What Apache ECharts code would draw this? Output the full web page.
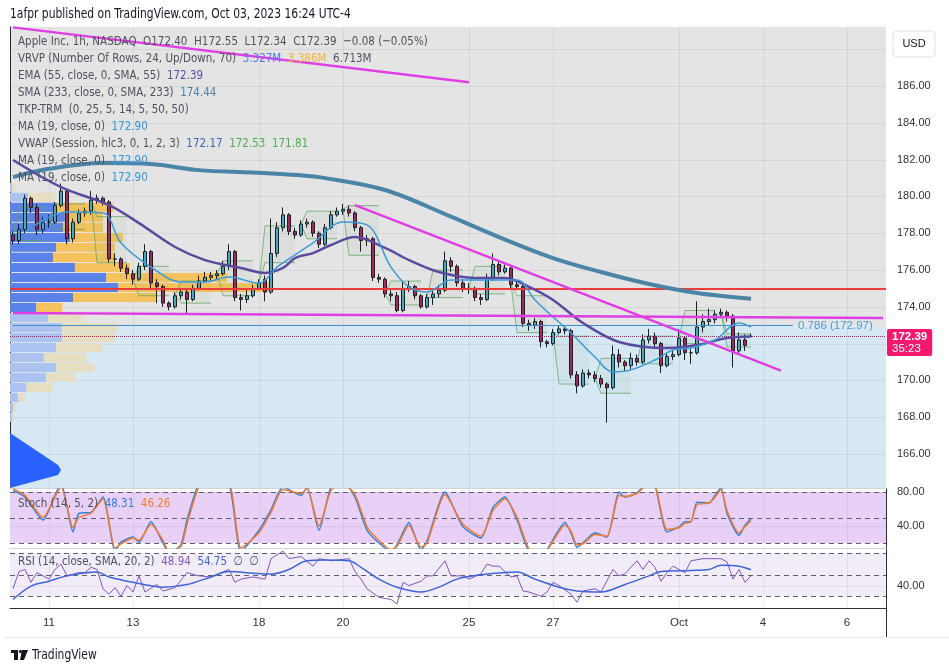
<!DOCTYPE html>
<html>
<head>
<meta charset="utf-8">
<title>AAPL 1h</title>
<script src="https://cdn.jsdelivr.net/npm/echarts@6/dist/echarts.min.js"></script>
<style>
html, body { margin: 0; padding: 0; background: #fff; }
#chart { width: 949px; height: 672px; }
</style>
</head>
<body>
<div id="chart"></div>
<script>
// sessions shown on the time axis (1h bars, 7 per session, first one cut)
var days = ['Sep 8', 'Sep 11', 'Sep 12', 'Sep 13', 'Sep 14', 'Sep 15', 'Sep 18', 'Sep 19', 'Sep 20', 'Sep 21', 'Sep 22',
	'Sep 25', 'Sep 26', 'Sep 27', 'Sep 28', 'Sep 29', 'Oct 2', 'Oct 3', 'Oct 4', 'Oct 5', 'Oct 6'];
var hours = ['09:30', '10:30', '11:30', '12:30', '13:30', '14:30', '15:30'];
var dayLabels = {'Sep 11': '11', 'Sep 13': '13', 'Sep 18': '18', 'Sep 20': '20', 'Sep 25': '25', 'Sep 27': '27', 'Oct 2': 'Oct', 'Oct 4': '4', 'Oct 6': '6'};

// [open, close, low, high]
var candles = [
	[177.9,177.6,177.4,178.1],[177.6,178.2,177.4,178.5],[178.2,179.9,178.0,180.1],[179.9,179.4,179.1,180.0],
	[179.4,178.2,177.9,179.6],[178.2,178.6,178.0,178.9],[178.6,178.6,178.3,179.0],[178.6,179.5,178.5,179.7],
	[179.5,180.3,179.4,180.7],[180.3,177.7,177.4,180.4],[177.7,178.6,177.5,178.8],[178.6,179.1,178.5,179.3],
	[179.1,179.2,178.9,179.4],[179.2,179.8,179.0,180.3],[179.8,179.9,179.6,180.1],[179.9,179.7,179.5,180.0],
	[179.7,176.6,176.4,179.8],[176.6,176.6,176.2,176.9],[176.6,176.1,175.9,176.7],[176.1,175.8,175.5,176.3],
	[175.8,175.5,175.2,176.0],[175.5,176.2,175.4,176.4],[176.2,177.0,176.0,177.4],[177.0,175.3,175.0,177.1],
	[175.3,175.1,174.2,175.5],[175.1,174.2,174.0,175.2],[174.2,174.0,173.8,174.3],[174.0,174.6,173.9,174.8],
	[174.6,174.8,174.4,175.0],[174.8,174.4,173.6,175.0],[174.4,175.0,174.3,175.2],[175.0,175.4,174.9,175.7],
	[175.4,175.6,175.3,175.9],[175.6,175.7,175.4,175.9],[175.7,175.8,175.5,176.0],[175.8,176.2,175.7,176.5],
	[176.2,177.0,176.0,177.4],[177.0,174.5,174.3,177.1],[174.5,174.4,173.8,174.7],[174.4,174.6,174.2,174.9],
	[174.6,175.0,174.5,175.2],[175.0,175.3,174.9,175.5],[175.5,174.8,174.3,175.7],[174.8,176.9,174.7,178.8],
	[176.9,178.3,176.7,178.6],[178.3,179.0,178.1,179.4],[179.0,178.1,177.9,179.1],[178.1,177.9,177.7,178.3],
	[177.9,178.5,177.8,178.7],[178.5,178.6,178.3,178.8],[178.6,178.0,177.8,178.7],[178.0,177.4,177.2,178.1],
	[177.4,178.3,177.3,178.5],[178.3,179.0,178.2,179.2],[179.0,179.2,178.9,179.4],[179.2,179.3,179.0,179.6],
	[179.3,179.1,178.9,179.5],[179.1,178.3,178.1,179.2],[178.3,177.6,177.0,178.4],[177.6,177.7,177.3,177.9],
	[177.7,175.6,175.4,177.8],[175.6,175.5,175.3,175.8],[175.5,174.7,174.5,175.6],[174.7,174.6,174.3,174.9],
	[174.6,173.8,173.7,174.8],[173.8,175.0,173.7,175.4],[175.0,175.1,174.8,175.4],[175.1,174.6,174.4,175.2],
	[174.6,174.0,173.9,174.7],[174.0,174.5,173.9,174.7],[174.5,174.7,174.1,174.9],[174.7,174.9,174.5,175.2],
	[174.9,176.5,174.8,177.0],[176.5,176.2,175.9,176.7],[176.2,175.3,175.1,176.3],[175.3,175.0,174.8,175.5],
	[175.0,175.0,174.7,175.3],[175.0,174.5,174.3,175.1],[174.5,174.4,174.1,174.7],[174.4,175.6,174.3,175.8],
	[175.6,176.3,175.4,176.9],[176.3,175.9,175.7,176.5],[175.9,176.1,175.8,176.3],[176.1,175.2,175.0,176.2],
	[175.2,175.1,174.9,175.4],[175.1,173.1,172.9,175.2],[173.1,173.0,172.7,173.3],[173.0,173.2,172.8,173.4],
	[173.2,172.1,171.8,173.3],[172.1,172.0,171.8,172.2],[172.0,172.6,171.9,172.8],[172.6,172.8,172.5,173.0],
	[172.8,172.7,172.5,173.0],[172.7,170.3,170.1,172.8],[170.3,169.7,169.3,170.5],[169.7,170.4,169.6,170.6],
	[170.4,170.3,170.1,170.6],[170.3,170.1,169.9,170.5],[170.1,169.8,169.6,170.3],[169.8,169.6,167.7,169.9],
	[169.6,171.4,169.5,171.9],[171.4,171.0,170.7,171.7],[171.0,170.8,170.5,171.1],[170.8,171.2,170.6,171.5],
	[171.2,171.0,170.8,171.4],[171.0,172.2,170.9,172.5],[172.2,172.4,172.0,172.8],[172.4,172.0,171.8,172.6],
	[172.0,170.8,170.4,172.1],[170.8,171.3,170.7,171.5],[171.3,171.4,171.1,171.6],[171.4,172.3,171.3,172.8],
	[172.3,171.5,171.1,172.4],[171.5,171.5,170.9,171.7],[171.5,172.9,171.4,174.3],[172.9,173.2,172.6,173.6],
	[173.2,173.3,173.0,173.9],[173.3,173.6,173.1,173.8],[173.6,173.7,173.4,173.9],[173.7,173.5,173.2,173.8],
	[173.5,171.6,170.7,173.6],[171.6,172.2,171.5,172.6],[172.2,171.9,171.6,172.5],[172.40,172.39,172.34,172.55]
];

// moving averages, [bar index, value]
var sma233 = [[0,181.05],[6,181.5],[15,181.82],[23,181.76],[31,181.43],[40,181.3],[48,181.15],[51,181.05],[62,180.35],
	[73,178.9],[81,177.79],[90,176.65],[98,175.89],[106,175.24],[114,174.75],[123,174.44]];
var ema55 = [[0,181.98],[8,180.51],[16,179.53],[21,178.55],[27,177.25],[32,176.54],[38,176.11],[42,175.84],[45,176.11],
	[47,176.65],[50,176.92],[53,177.36],[57,177.79],[62,177.2],[66,176.54],[71,175.89],[77,175.57],[82,175.57],
	[86,175.08],[90,174.37],[95,173.12],[101,172.09],[109,171.76],[114,171.92],[119,172.3],[123,172.39]];
var ma19 = [[2,178.07],[9,179.15],[15,179.1],[18,177.47],[23,176.16],[28,175.35],[32,175.35],[36,175.62],[41,175.29],
	[44,176.16],[47,176.82],[50,177.47],[55,178.61],[59,178.45],[63,176.16],[66,175.08],[69,174.8],[73,175.46],
	[78,175.46],[84,175.46],[87,174.37],[90,173.45],[93,172.58],[97,171.27],[100,170.46],[103,170.57],[107,171.11],
	[110,171.65],[113,171.76],[117,172.2],[121,173.12],[123,172.9]];

// session VWAP bands: [first bar, last bar, first price, upper, lower]
var vwapSessions = [
	[0,5,177.8,179.4,177.6],[6,12,178.6,179.6,178.2],[13,19,179.8,178.9,176.4],[20,26,175.5,176.2,174.6],
	[27,33,174.6,175.4,174.2],[34,40,175.8,176.5,174.6],[41,47,175.3,178.4,176.4],[48,54,178.5,179.2,177.7],
	[55,61,179.3,179.5,176.8],[62,68,174.7,175.4,174.1],[69,75,174.5,176.0,174.5],[76,82,175.0,176.2,174.7],
	[83,89,175.2,174.6,172.6],[90,96,172.6,172.4,169.8],[97,103,170.1,171.2,169.3],[104,110,171.0,172.4,170.9],
	[111,117,172.3,173.8,172.0],[118,123,173.7,172.53,171.81]
];

// visible range volume profile, 24 rows, bottom up (millions)
var vpRowLow = [167.71,168.25,168.80,169.34,169.89,170.43,170.97,171.52,172.06,172.60,173.15,173.69,
	174.24,174.78,175.32,175.87,176.41,176.96,177.50,178.04,178.59,179.13,179.68,180.22];
var vpTop = 180.76;
var vpUp = [0.05,0.08,0.21,0.42,0.94,1.20,0.88,1.20,1.35,1.35,0.99,0.68,1.64,2.81,2.50,1.69,1.12,1.20,1.56,1.38,1.43,1.22,0.47,0.05];
var vpDown = [0.05,0.08,0.18,0.68,0.75,0.99,1.12,1.20,1.38,1.46,0.91,0.68,2.18,3.95,3.15,1.43,1.61,1.53,1.38,1.04,0.99,1.46,0.70,0.08];
var vpValueArea = [0,0,0,0,0,0,0,0,0,0,0,1,1,1,1,1,1,1,1,1,1,1,0,0];

// drawings
var redLevel = 175.0;
var fib786 = 172.97;
var lastPrice = 172.39;
var trendTop = [[0,189.19],[76,186.21]];
var trendWedge = [[57,179.53],[128,170.53]];
var trendFlat = [[0,173.66],[145,173.39]];

// stochastic (14,5,2)
var stochK = [[0,82],[2,74],[5,47],[8,90],[10,33],[11,55],[13,56],[15,74],[17,10],[18,21],[20,27],[21,21],[23,45],[25,20],
	[26,8],[28,18],[29,47],[31,90],[33,95],[36,90],[38,10],[41,35],[43,59],[45,86],[48,76],[49,86],[51,35],[53,86],[55,92],
	[57,74],[59,35],[61,20],[63,10],[64,18],[66,44],[68,12],[69,22],[72,80],[75,39],[78,26],[80,62],[82,74],[84,47],[86,10],
	[88,5],[89,12],[92,44],[93,32],[94,15],[95,20],[97,32],[99,27],[101,80],[102,74],[104,79],[106,92],[107,88],[109,33],
	[111,39],[112,45],[113,45],[114,68],[116,67],[117,76],[118,85],[119,55],[121,29],[122,41],[123,48.31]];
var stochD = [[0,84],[2,76],[5,50],[8,86],[10,38],[11,50],[13,55],[15,72],[17,14],[18,19],[20,26],[21,23],[23,42],[25,23],
	[26,10],[28,16],[29,42],[31,86],[33,93],[36,92],[38,14],[41,32],[43,56],[45,83],[48,78],[49,84],[51,40],[53,82],[55,90],
	[57,77],[59,39],[61,23],[63,12],[64,16],[66,41],[68,15],[69,20],[72,77],[75,42],[78,28],[80,58],[82,72],[84,50],[86,13],
	[88,7],[89,11],[92,41],[93,34],[94,18],[95,19],[97,30],[99,28],[101,76],[102,75],[104,78],[106,90],[107,89],[109,36],
	[111,38],[112,43],[113,45],[114,65],[116,67],[117,74],[118,83],[119,58],[121,32],[122,39],[123,46.26]];

// RSI (14) and its SMA (20)
var rsi = [[0,37],[1,53],[2,55],[3,43],[4,52],[6,46],[7,55],[8,60],[9,49],[11,52],[12,52],[13,57],[14,55],[15,37],[16,32],
	[17,38],[18,30],[19,40],[20,34],[21,49],[22,34],[24,41],[25,35],[27,38],[29,52],[31,49],[33,48],[36,55],[37,43],[38,46],
	[40,48],[42,46],[43,65],[45,72],[46,65],[48,67],[50,58],[51,65],[53,63],[56,65],[57,53],[58,46],[59,37],[61,29],[63,27],
	[64,23],[65,43],[66,40],[68,44],[69,49],[70,49],[72,63],[73,49],[75,49],[76,46],[78,51],[79,60],[80,58],[81,58],[83,48],
	[84,49],[85,35],[86,34],[88,30],[89,34],[90,43],[91,40],[93,32],[94,24.5],[95,35],[97,37],[98,34],[100,55],[101,49],
	[102,51],[104,63],[105,55],[106,63],[107,57],[108,44],[109,52],[110,58],[112,52],[113,63],[115,65],[117,65],[118,65],
	[119,62],[120,46],[121,55],[122,43],[123,48.94]];
var rsiSma = [[0,27],[3,39.5],[6,44],[9,49],[14,52.5],[16,48],[20,43],[25,38.5],[29,41],[33,48],[36,53],[40,51.5],[43,50.7],
	[46,55],[49,63],[52,63.7],[56,63],[58,57],[61,46],[64,38.5],[68,34],[71,38.5],[74,46],[78,50],[84,52.5],[87,46],
	[91,38.5],[94,35],[98,34],[102,41],[106,49],[108,53],[113,54],[116,55],[118,59],[121,58],[123,54.75]];

var priceTicks = [166, 168, 170, 172, 174, 176, 178, 180, 182, 184, 186, 188];
var stochBands = [80, 50, 20];
var rsiBands = [70, 50, 30];

var NARROW = "'Liberation Sans Narrow','DejaVu Sans Condensed','Liberation Sans',sans-serif";
var AXISFONT = "'Liberation Sans',Arial,sans-serif";
var TXT = '#4c525e';
var SQUEEZE = 0.885;

var categories = [];
days.forEach(function(d, k) {
	hours.forEach(function(h, j) {
		if (k === 0 && j === 0) return;
		categories.push(d + ' ' + h);
	});
});
function isDayLabel(v) {
	return v.slice(-5) === '09:30' && dayLabels[v.slice(0, -6)] !== undefined;
}
var labelIdx = [];
categories.forEach(function(c, i) { if (isDayLabel(c)) labelIdx.push(i); });

var chart = echarts.init(document.getElementById('chart'));

// flat horizontal lines across a pane
function hLines(g, values, style, z) {
	return {
		type: 'custom', xAxisIndex: g, yAxisIndex: g, silent: true, z: z || 1, animation: false,
		data: values.map(function(v) { return [0, v]; }),
		renderItem: function(params, api) {
			var cs = params.coordSys;
			var y = Math.round(api.coord([0, api.value(1)])[1]) + 0.5;
			return {type: 'line', shape: {x1: cs.x, y1: y, x2: cs.x + cs.width, y2: y}, style: Object.assign({}, style)};
		}
	};
}
// vertical day lines
function vLines(g, mid) {
	return {
		type: 'custom', xAxisIndex: g, yAxisIndex: g, silent: true, z: 1, animation: false,
		data: labelIdx.map(function(i) { return [i, mid]; }),
		renderItem: function(params, api) {
			var cs = params.coordSys;
			var x = Math.round(api.coord([api.value(0), mid])[0]) + 0.5;
			return {type: 'line', shape: {x1: x, y1: cs.y, x2: x, y2: cs.y + cs.height}, style: {stroke: 'rgba(42,46,57,0.07)', lineWidth: 1}};
		}
	};
}
// filled zones
function zone(g, lo, hi, fill) {
	return {
		type: 'custom', xAxisIndex: g, yAxisIndex: g, silent: true, z: 0, animation: false,
		data: [[0, lo, hi]],
		renderItem: function(params, api) {
			var cs = params.coordSys;
			var y1 = api.coord([0, api.value(2)])[1], y2 = api.coord([0, api.value(1)])[1];
			return {type: 'rect', shape: {x: cs.x, y: y1, width: cs.width, height: y2 - y1}, style: {fill: fill}};
		}
	};
}
function line(g, data, color, width, z, smooth) {
	return {
		type: 'line', xAxisIndex: g, yAxisIndex: g, data: data, symbol: 'none', silent: true, animation: false,
		smooth: smooth === undefined ? 0.35 : smooth, z: z || 5, lineStyle: {color: color, width: width}
	};
}
function legend(y, segs) {
	var rich = {}, txt = '';
	segs.forEach(function(s, k) {
		rich['s' + k] = {fill: s[1] || TXT, fontSize: 13, fontFamily: NARROW};
		txt += '{s' + k + '|' + s[0] + '}';
	});
	return {type: 'text', x: 18, y: y, z: 50, silent: true, scaleX: SQUEEZE,
		style: {text: txt, rich: rich, fontSize: 13, fontFamily: NARROW, verticalAlign: 'middle', fill: TXT}};
}

var xCat = [0, 1, 2].map(function(g) {
	return {
		type: 'category', gridIndex: g, data: categories, boundaryGap: true,
		axisLine: {show: true, lineStyle: {color: g === 2 ? '#2a2e39' : '#d1d4dc'}},
		axisTick: {show: false}, splitLine: {show: false},
		axisLabel: g === 2 ? {
			show: true, interval: function(i, v) { return isDayLabel(v); },
			formatter: function(v) { return dayLabels[v.slice(0, -6)]; },
			color: '#333', fontSize: 11.5, fontFamily: AXISFONT, margin: 9
		} : {show: false}
	};
});
xCat.push({type: 'value', gridIndex: 0, min: 0, max: 22.8, show: false});

function yRight(g, min, max, labels) {
	return {
		type: 'value', gridIndex: g, position: 'right', min: min, max: max, scale: true,
		axisLine: {show: true, lineStyle: {color: '#2a2e39'}}, axisTick: {show: false}, splitLine: {show: false},
		axisLabel: {customValues: labels, formatter: function(v) { return v.toFixed(2); },
			color: '#333', fontSize: 11, fontFamily: AXISFONT, margin: 11}
	};
}

var option = {
	backgroundColor: '#fff',
	animation: false,
	grid: [
		{left: 10, right: 63, top: 27, height: 461},
		{left: 10, right: 63, top: 489, height: 59},
		{left: 10, right: 63, top: 549, height: 59}
	],
	xAxis: xCat,
	yAxis: [
		yRight(0, 164.15, 189.21, priceTicks.filter(function(v) { return v !== 172 && v !== 188; })),
		yRight(1, 14.12, 83.53, [40, 80]),
		yRight(2, 19.12, 74.0, [40])
	],
	series: [
		// pane backgrounds
		zone(0, 164.15, fib786, '#d5e8f3'),
		zone(0, fib786, 189.21, '#e4e4e4'),
		zone(1, 20, 80, '#e8d0f7'),
		zone(2, 30, 70, '#f1ecf8'),
		hLines(0, priceTicks, {stroke: 'rgba(42,46,57,0.07)', lineWidth: 1}),
		hLines(1, [40, 80], {stroke: 'rgba(42,46,57,0.07)', lineWidth: 1}),
		hLines(2, [40], {stroke: 'rgba(42,46,57,0.07)', lineWidth: 1}),
		vLines(0, 170), vLines(1, 50), vLines(2, 50),
		hLines(1, stochBands, {stroke: '#5d606b', lineWidth: 1, lineDash: [5, 4]}, 3),
		hLines(2, rsiBands, {stroke: '#5d606b', lineWidth: 1, lineDash: [5, 4]}, 3),
		// volume profile
		{
			type: 'custom', xAxisIndex: 3, yAxisIndex: 0, silent: true, z: 2, animation: false,
			data: vpRowLow.map(function(p, k) { return [0, p, vpUp[k], vpDown[k], vpValueArea[k]]; }),
			renderItem: function(params, api) {
				var k = params.dataIndex;
				var lo = api.value(1), hi = k < vpRowLow.length - 1 ? vpRowLow[k + 1] : vpTop;
				var up = api.value(2), dn = api.value(3), strong = api.value(4) === 1;
				var a = api.coord([0, hi]), b = api.coord([up, lo]), c = api.coord([up + dn, lo]);
				var h = b[1] - a[1] - 1;
				return {type: 'group', children: [
					{type: 'rect', shape: {x: a[0], y: a[1] + 0.5, width: b[0] - a[0], height: h}, style: {fill: strong ? '#5b82e9' : '#abc3ee'}},
					{type: 'rect', shape: {x: b[0], y: a[1] + 0.5, width: c[0] - b[0], height: h}, style: {fill: strong ? '#f5c35e' : '#e7ddc0'}}
				]};
			}
		},
		// session VWAP bands
		{
			type: 'custom', xAxisIndex: 0, yAxisIndex: 0, silent: true, z: 3, animation: false,
			encode: {x: 0, y: 2},
			data: vwapSessions,
			renderItem: function(params, api) {
				var s = api.value(0), e = api.value(1), f = api.value(2), u = api.value(3), l = api.value(4);
				var p0 = api.coord([s, f]), pu1 = api.coord([s + 1, u]), pu2 = api.coord([e, u]);
				var pl1 = api.coord([s + 1, l]), pl2 = api.coord([e, l]);
				return {type: 'group', children: [
					{type: 'polygon', shape: {points: [p0, pu1, pu2, pl2, pl1]}, style: {fill: 'rgba(110,160,110,0.07)'}},
					{type: 'polyline', shape: {points: [p0, pu1, pu2]}, style: {stroke: 'rgba(95,165,95,0.75)', lineWidth: 1, fill: null}},
					{type: 'polyline', shape: {points: [p0, pl1, pl2]}, style: {stroke: 'rgba(95,165,95,0.75)', lineWidth: 1, fill: null}}
				]};
			}
		},
		{
			type: 'candlestick', xAxisIndex: 0, yAxisIndex: 0, data: candles, barWidth: 4, z: 4, silent: true, animation: false,
			itemStyle: {color: '#4aa9c1', color0: '#9e2a5f', borderColor: '#1b2024', borderColor0: '#1b2024', borderWidth: 1}
		},
		line(0, sma233, '#4a84a6', 4),
		line(0, ema55, '#5a4b9e', 2.5),
		line(0, ma19, '#3b9ad8', 1.5),
		line(0, trendTop, '#e03ee4', 2.5, 6, false),
		line(0, trendFlat, '#e03ee4', 2.5, 6, false),
		Object.assign(line(0, trendWedge, '#e03ee4', 2.5, 6, false), {
			markLine: {
				silent: true, symbol: ['none', 'none'], animation: false,
				data: [
					{yAxis: redLevel, lineStyle: {color: '#ee3b3b', width: 2, type: 'solid'}, label: {show: false}},
					[
						{coord: [0, fib786], lineStyle: {color: '#3f8fc9', width: 1, type: 'solid'},
							label: {show: true, position: 'end', formatter: '0.786 (172.97)', color: '#4a9bd1', fontSize: 11.5, fontFamily: AXISFONT, distance: 5}},
						{coord: [130, fib786]}
					],
					{yAxis: lastPrice, lineStyle: {color: '#c2185b', width: 1, type: 'dotted'},
						label: {show: true, position: 'end', distance: 1, offset: [0, 6],
							formatter: '{p|172.39}\n{t|35:23}', backgroundColor: '#f0196e', borderRadius: 2, padding: [2, 5, 1, 5],
							rich: {p: {color: '#fff', fontWeight: 'bold', fontSize: 11.5, fontFamily: AXISFONT, lineHeight: 12},
								t: {color: '#fff', fontSize: 11.5, fontFamily: AXISFONT, lineHeight: 12}}}}
				]
			}
		}),
		// stochastic
		line(1, stochK, '#2f80e0', 1.5, 5, 0.2),
		line(1, stochD, '#f47b2a', 1.5, 5, 0.2),
		// RSI
		line(2, rsi, '#7e57c2', 1, 5, 0),
		line(2, rsiSma, '#3f64d8', 1.5, 5, 0.35)
	],
	graphic: [
		{type: 'text', x: 10, y: 14, silent: true, scaleX: SQUEEZE,
			style: {text: '1afpr published on TradingView.com, Oct 03, 2023 16:24 UTC-4', fontSize: 13.5, fontFamily: NARROW, fill: '#131722', verticalAlign: 'middle'}},
		legend(42, [['Apple Inc, 1h, NASDAQ  O172.40  H172.55  L172.34  C172.39  \u22120.08 (\u22120.05%)']]),
		legend(59, [['VRVP (Number Of Rows, 24, Up/Down, 70)  '], ['3.327M', '#4f79e6'], ['  '], ['3.386M', '#f4b233'], ['  6.713M']]),
		legend(76, [['EMA (55, close, 0, SMA, 55)  '], ['172.39', '#5a4b9e']]),
		legend(93, [['SMA (233, close, 0, SMA, 233)  '], ['174.44', '#4a84a6']]),
		legend(110, [['TKP-TRM  (0, 25, 5, 14, 5, 50, 50)']]),
		legend(127, [['MA (19, close, 0)  '], ['172.90', '#2f96e0']]),
		legend(144, [['VWAP (Session, hlc3, 0, 1, 2, 3)  '], ['172.17', '#3a6aa8'], ['  '], ['172.53', '#4caf50'], ['  '], ['171.81', '#4caf50']]),
		legend(161, [['MA (19, close, 0)  '], ['172.90', '#2f96e0']]),
		legend(178, [['MA (19, close, 0)  '], ['172.90', '#2f96e0']]),
		legend(504, [['Stoch (14, 5, 2)  '], ['48.31', '#2f80e0'], ['  '], ['46.26', '#f47b2a']]),
		legend(562, [['RSI (14, close, SMA, 20, 2)  '], ['48.94', '#7e57c2'], ['  '], ['54.75', '#3f64d8'], ['  \u2205  \u2205']]),
		// USD box
		{type: 'rect', z: 60, shape: {x: 893, y: 31, width: 42, height: 26, r: 4}, style: {fill: '#fff', stroke: '#e0e3eb'}},
		{type: 'text', z: 61, x: 914, y: 44, style: {text: 'USD', fontSize: 11, fontFamily: AXISFONT, fill: '#131722', align: 'center', verticalAlign: 'middle'}},
		// blue arrow at bottom left of main pane
		{type: 'polygon', z: 40, shape: {points: [[10, 433], [58, 465], [61, 470], [58, 475], [10, 488]]}, style: {fill: '#2962ff'}},
		// time axis frame
		{type: 'line', z: 40, shape: {x1: 886.5, y1: 608, x2: 886.5, y2: 637}, style: {stroke: '#2a2e39', lineWidth: 1}},
		{type: 'line', z: 40, shape: {x1: 5, y1: 637.5, x2: 949, y2: 637.5}, style: {stroke: '#e6e8ee', lineWidth: 1}},
		// TradingView footer
		{type: 'rect', z: 40, shape: {x: 11, y: 650, width: 7, height: 3}, style: {fill: '#131722'}},
		{type: 'rect', z: 40, shape: {x: 14, y: 650, width: 4, height: 10}, style: {fill: '#131722'}},
		{type: 'polygon', z: 40, shape: {points: [[22, 650], [28, 650], [24, 660], [20, 660]]}, style: {fill: '#131722'}},
		{type: 'circle', z: 40, shape: {cx: 20.5, cy: 651.5, r: 1.6}, style: {fill: '#131722'}},
		{type: 'text', z: 40, x: 32, y: 655, scaleX: SQUEEZE, style: {text: 'TradingView', fontSize: 13.5, fontFamily: NARROW, fill: '#131722', verticalAlign: 'middle'}}
	]
};

chart.setOption(option);
</script>
</body>
</html>
